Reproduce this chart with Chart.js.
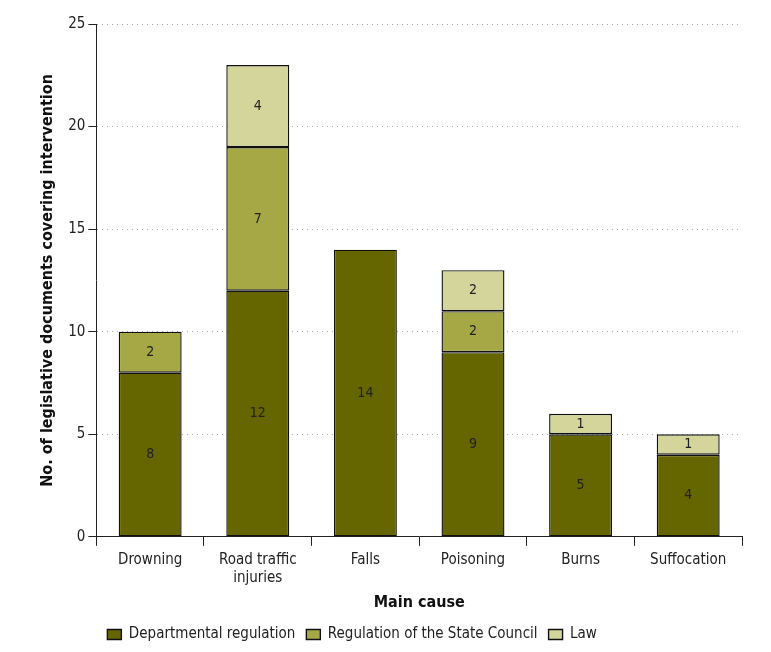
<!DOCTYPE html>
<html>
<head>
<meta charset="utf-8">
<script src="https://cdn.jsdelivr.net/npm/chart.js@4"></script>
<style>
  html, body { margin: 0; padding: 0; background: #fff; }
  #wrap { width: 771px; height: 652px; }
</style>
</head>
<body>
<div id="wrap"><canvas id="myChart" width="771" height="652"></canvas></div>
<script>
var causes = ['Drowning', ['Road traffic', 'injuries'], 'Falls', 'Poisoning', 'Burns', 'Suffocation'];
var departmental = [8, 12, 14, 9, 5, 4];
var stateCouncil = [2, 7, 0, 2, 0, 0];
var law = [0, 4, 0, 2, 1, 1];
var yTicks = [0, 5, 10, 15, 20, 25];

var fam = "'Liberation Sans Narrow', 'DejaVu Sans Condensed', 'Roboto Condensed', sans-serif";
Chart.defaults.font.family = fam;
Chart.defaults.color = '#222';

// values written in the middle of each segment
var segmentLabels = {
    id: 'segmentLabels',
    afterDatasetsDraw: function (chart) {
        var ctx = chart.ctx;
        ctx.save();
        ctx.font = '14px ' + fam;
        ctx.fillStyle = '#222';
        ctx.textAlign = 'center';
        ctx.textBaseline = 'middle';
        chart.data.datasets.forEach(function (ds, i) {
            chart.getDatasetMeta(i).data.forEach(function (bar, j) {
                var v = ds.data[j];
                if (!v) return;
                ctx.fillText(v, bar.x, (bar.y + bar.base) / 2);
            });
        });
        ctx.restore();
    }
};

var ctx = document.getElementById('myChart').getContext('2d');
var myChart = new Chart(ctx, {
    type: 'bar',
    data: {
        labels: causes,
        datasets: [
        {
            label: 'Departmental regulation',
            data: departmental,
            backgroundColor: '#666600'
        },
        {
            label: 'Regulation of the State Council',
            data: stateCouncil,
            backgroundColor: '#a6a846'
        },
        {
            label: 'Law',
            data: law,
            backgroundColor: '#d3d59a'
        }]
    },
    plugins: [segmentLabels],
    options: {
        responsive: false,
        animation: false,
        layout: {
            padding: { top: 24, right: 29, left: 34, bottom: 0 }
        },
        datasets: {
            bar: {
                categoryPercentage: 1,
                barPercentage: 0.585,
                borderColor: '#111',
                borderWidth: 1.4,
                borderSkipped: false
            }
        },
        plugins: {
            tooltip: { enabled: false },
            legend: {
                position: 'bottom',
                align: 'start',
                fullSize: false,
                labels: {
                    boxWidth: 14,
                    boxHeight: 10,
                    padding: 11,
                    color: '#222',
                    font: { size: 15 }
                }
            }
        },
        scales: {
            x: {
                stacked: true,
                grid: {
                    offset: true,
                    drawOnChartArea: false,
                    color: '#222',
                    tickLength: 9
                },
                border: { color: '#222', width: 1 },
                ticks: {
                    color: '#222',
                    font: { size: 15 },
                    padding: 5
                },
                title: {
                    display: true,
                    text: 'Main cause',
                    color: '#111',
                    font: { size: 16, weight: 'bold' },
                    padding: { top: 1, bottom: 4 }
                }
            },
            y: {
                stacked: true,
                min: 0,
                max: 25,
                afterBuildTicks: function (axis) {
                    axis.ticks = yTicks.map(function (v) { return { value: v }; });
                },
                grid: {
                    color: function (c) { return c.tick && c.tick.value === 0 ? 'rgba(0,0,0,0)' : '#a8a8a8'; },
                    tickColor: '#222',
                    tickLength: 8,
                    tickBorderDash: [0, 0]
                },
                border: { color: '#222', width: 1, dash: [1, 4] },
                ticks: {
                    color: '#222',
                    font: { size: 15 },
                    padding: 3
                },
                title: {
                    display: true,
                    text: 'No. of legislative documents covering intervention',
                    color: '#111',
                    font: { size: 16, weight: 'bold' },
                    padding: { bottom: 8 }
                }
            }
        }
    }
});
</script>
</body>
</html>
